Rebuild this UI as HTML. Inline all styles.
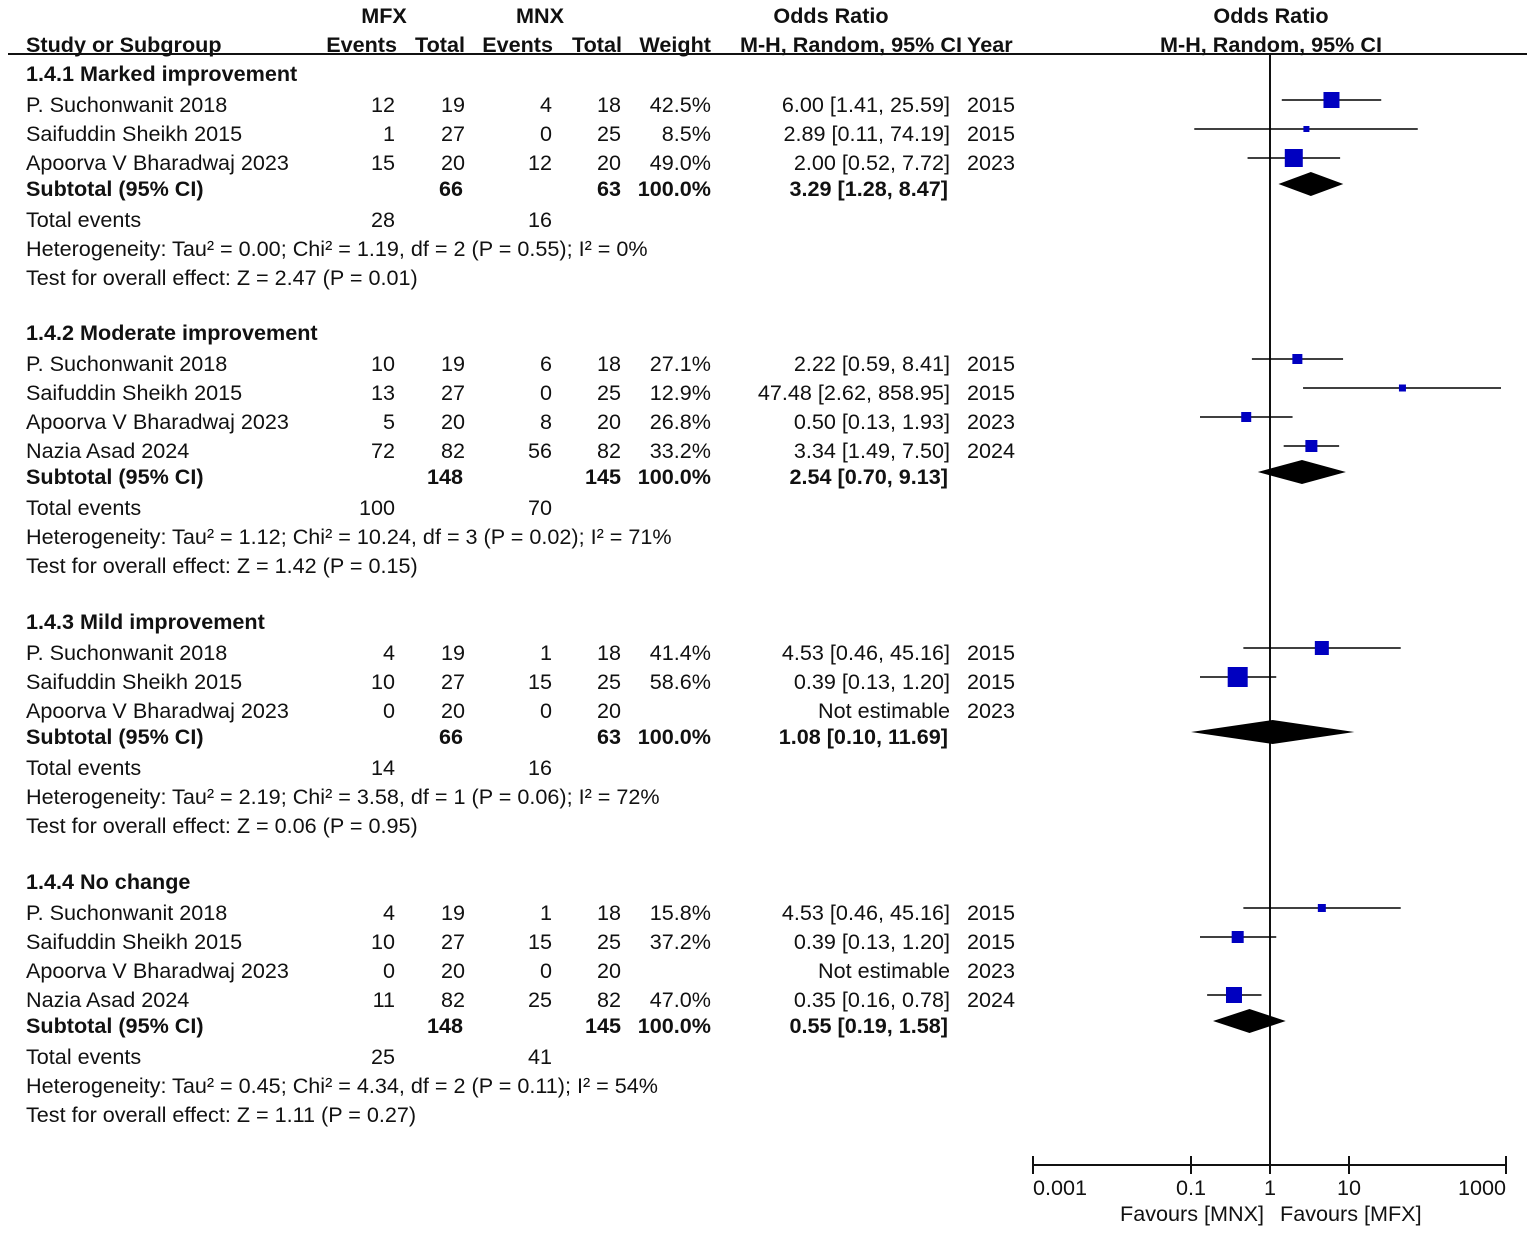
<!DOCTYPE html>
<html><head><meta charset="utf-8"><style>
html,body{margin:0;padding:0;background:#fff;width:1535px;height:1234px;overflow:hidden}
svg text{font-family:"Liberation Sans",Arial,sans-serif;font-size:21.6px;fill:#111}
.b{font-weight:bold}
</style></head><body>
<svg id="s" width="1535" height="1234" xmlns="http://www.w3.org/2000/svg"></svg>
<script>
const s=document.getElementById('s');let h='';
function T(x,y,t,a,b){h+=`<text x="${x}" y="${y}" text-anchor="${a||'start'}"${b?' class="b"':''}>${t}</text>`;}
const X=v=>1270+79*Math.log10(v);
T(384,23,'MFX','middle',1);T(540,23,'MNX','middle',1);T(831,23,'Odds Ratio','middle',1);T(1271,23,'Odds Ratio','middle',1);
T(26,52,'Study or Subgroup','start',1);T(397,52,'Events','end',1);T(465,52,'Total','end',1);T(553,52,'Events','end',1);T(622,52,'Total','end',1);T(711,52,'Weight','end',1);T(740,52,'M-H, Random, 95% CI','start',1);T(967,52,'Year','start',1);T(1271,52,'M-H, Random, 95% CI','middle',1);
h+='<line x1="8" y1="54" x2="1527" y2="54" stroke="#111" stroke-width="2"/>';
const groups=[
{title:'1.4.1 Marked improvement',ty:74,rows:[
['P. Suchonwanit 2018','12','19','4','18','42.5%','6.00 [1.41, 25.59]','2015',6,1.41,25.59,16],
['Saifuddin Sheikh 2015','1','27','0','25','8.5%','2.89 [0.11, 74.19]','2015',2.89,0.11,74.19,6],
['Apoorva V Bharadwaj 2023','15','20','12','20','49.0%','2.00 [0.52, 7.72]','2023',2,0.52,7.72,18]],
sub:['66','63','3.29 [1.28, 8.47]',3.29,1.28,8.47],te:['28','16'],het:'Heterogeneity: Tau² = 0.00; Chi² = 1.19, df = 2 (P = 0.55); I² = 0%',ov:'Test for overall effect: Z = 2.47 (P = 0.01)'},
{title:'1.4.2 Moderate improvement',ty:333,rows:[
['P. Suchonwanit 2018','10','19','6','18','27.1%','2.22 [0.59, 8.41]','2015',2.22,0.59,8.41,10],
['Saifuddin Sheikh 2015','13','27','0','25','12.9%','47.48 [2.62, 858.95]','2015',47.48,2.62,858.95,7],
['Apoorva V Bharadwaj 2023','5','20','8','20','26.8%','0.50 [0.13, 1.93]','2023',0.5,0.13,1.93,10],
['Nazia Asad 2024','72','82','56','82','33.2%','3.34 [1.49, 7.50]','2024',3.34,1.49,7.5,12]],
sub:['148','145','2.54 [0.70, 9.13]',2.54,0.70,9.13],te:['100','70'],het:'Heterogeneity: Tau² = 1.12; Chi² = 10.24, df = 3 (P = 0.02); I² = 71%',ov:'Test for overall effect: Z = 1.42 (P = 0.15)'},
{title:'1.4.3 Mild improvement',ty:622,rows:[
['P. Suchonwanit 2018','4','19','1','18','41.4%','4.53 [0.46, 45.16]','2015',4.53,0.46,45.16,14],
['Saifuddin Sheikh 2015','10','27','15','25','58.6%','0.39 [0.13, 1.20]','2015',0.39,0.13,1.2,20],
['Apoorva V Bharadwaj 2023','0','20','0','20','','Not estimable','2023']],
sub:['66','63','1.08 [0.10, 11.69]',1.08,0.10,11.69],te:['14','16'],het:'Heterogeneity: Tau² = 2.19; Chi² = 3.58, df = 1 (P = 0.06); I² = 72%',ov:'Test for overall effect: Z = 0.06 (P = 0.95)'},
{title:'1.4.4 No change',ty:882,rows:[
['P. Suchonwanit 2018','4','19','1','18','15.8%','4.53 [0.46, 45.16]','2015',4.53,0.46,45.16,8],
['Saifuddin Sheikh 2015','10','27','15','25','37.2%','0.39 [0.13, 1.20]','2015',0.39,0.13,1.2,12],
['Apoorva V Bharadwaj 2023','0','20','0','20','','Not estimable','2023'],
['Nazia Asad 2024','11','82','25','82','47.0%','0.35 [0.16, 0.78]','2024',0.35,0.16,0.78,16]],
sub:['148','145','0.55 [0.19, 1.58]',0.55,0.19,1.58],te:['25','41'],het:'Heterogeneity: Tau² = 0.45; Chi² = 4.34, df = 2 (P = 0.11); I² = 54%',ov:'Test for overall effect: Z = 1.11 (P = 0.27)'}];
let marks='';
for(const g of groups){
 let c=g.ty;T(26,c+7,g.title,'start',1);c+=31;
 for(const r of g.rows){
  T(26,c+7,r[0]);T(395,c+7,r[1],'end');T(465,c+7,r[2],'end');T(552,c+7,r[3],'end');T(621,c+7,r[4],'end');T(711,c+7,r[5],'end');T(950,c+7,r[6],'end');T(967,c+7,r[7]);
  if(r.length>8){const y=c-5,sz=r[11];
   marks+=`<line x1="${X(r[9])}" y1="${y}" x2="${Math.min(X(r[10]),1501)}" y2="${y}" stroke="#000" stroke-width="1.6"/>`;
   marks+=`<rect x="${X(r[8])-sz/2}" y="${y-sz/2}" width="${sz}" height="${sz}" fill="#0000c0"/>`;}
  c+=29;}
 c-=3;const sb=g.sub;
 T(26,c+7,'Subtotal (95% CI)','start',1);T(463,c+7,sb[0],'end',1);T(621,c+7,sb[1],'end',1);T(711,c+7,'100.0%','end',1);T(948,c+7,sb[2],'end',1);
 const y=c-5;marks+=`<polygon points="${X(sb[4])},${y} ${X(sb[3])},${y-12} ${X(sb[5])},${y} ${X(sb[3])},${y+12}" fill="#000"/>`;
 c+=31;T(26,c+7,'Total events');T(395,c+7,g.te[0],'end');T(552,c+7,g.te[1],'end');
 c+=29;T(26,c+7,g.het);c+=29;T(26,c+7,g.ov);
}
h+='<line x1="1270" y1="54" x2="1270" y2="1165" stroke="#111" stroke-width="2"/>';
h+=marks;
h+='<line x1="1033" y1="1165" x2="1506" y2="1165" stroke="#111" stroke-width="2"/>';
[[1033,'0.001'],[1191,'0.1'],[1270,'1'],[1349,'10'],[1506,'1000']].forEach(([x,l])=>{h+=`<line x1="${x}" y1="1156" x2="${x}" y2="1174" stroke="#111" stroke-width="2"/>`;T(x,1195,l,x==1033?'start':(x==1506?'end':'middle'));});
T(1264,1221,'Favours [MNX]','end');T(1280,1221,'Favours [MFX]','start');
s.innerHTML=h;
</script>
</body></html>
